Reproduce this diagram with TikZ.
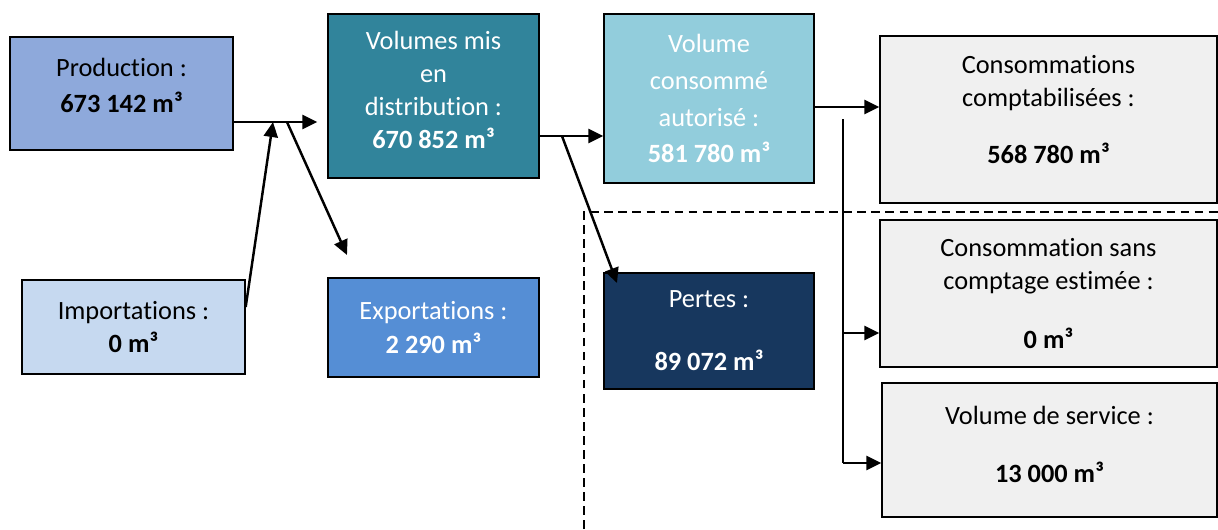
\documentclass[tikz,border=0pt]{standalone}
\usepackage{fontspec}
\setmainfont[Ligatures={NoCommon,NoRequired,NoContextual}]{Carlito}
\usetikzlibrary{arrows.meta}
\definecolor{prodblue}{HTML}{8EA9DB}
\definecolor{impblue}{HTML}{C6D9F0}
\definecolor{volteal}{HTML}{31849B}
\definecolor{expblue}{HTML}{558ED5}
\definecolor{autcyan}{HTML}{92CDDC}
\definecolor{pertnavy}{HTML}{17375E}
\definecolor{consgray}{HTML}{F0F0F0}

\begin{document}
\begin{tikzpicture}[x=0.02cm,y=-0.02cm,
	bloc/.style={draw=black,line width=0.8pt,inner sep=0pt,align=center,
		font=\fontsize{15}{18.8}\selectfont},
	flux/.style={line width=1.4pt,-{Triangle[length=0.3cm,width=0.28cm]}}]
	\useasboundingbox (0,0) rectangle (1218,529);
	
	% pertes zone
	\draw[dashed,line width=0.6pt,dash pattern=on 5pt off 3pt] (584,529) -- (584,212) -- (1218,212);
	
	% boxes
	\node[bloc,fill=prodblue,minimum width=4.46cm,minimum height=2.26cm] (prod) at (121.5,93.5) {Production :\\[2pt]\textbf{673 142 m³}\\[-9.7pt]\mbox{}};
	\node[bloc,fill=impblue,minimum width=4.46cm,minimum height=1.88cm] (imp) at (133.5,327) {Importations :\\\textbf{0 m³}};
	\node[bloc,fill=volteal,text=white,minimum width=4.22cm,minimum height=3.28cm] (vol) at (433.5,96) {Volumes mis\\en\\distribution :\\\textbf{670 852 m³}\\[-12pt]\mbox{}};
	\node[bloc,fill=expblue,text=white,minimum width=4.22cm,minimum height=1.98cm] (exp) at (433.5,327.5) {Exportations :\\\textbf{2 290 m³}};
	\node[bloc,fill=autcyan,text=white,minimum width=4.2cm,minimum height=3.38cm,
		font=\fontsize{15}{21}\selectfont] (aut) at (709,98.5) {Volume\\consommé\\autorisé :\\\textbf{581 780 m³}};
	\node[bloc,fill=pertnavy,text=white,minimum width=4.2cm,minimum height=2.32cm] (pert) at (709,331) {Pertes :\\[17pt]\textbf{89 072 m³}};
	\node[bloc,fill=consgray,minimum width=6.74cm,minimum height=3.34cm] (cpt) at (1048.5,119.5) {Consommations\\comptabilisées :\\[14pt]\textbf{568 780 m³}\\[-7.4pt]\mbox{}};
	\node[bloc,fill=consgray,minimum width=6.74cm,minimum height=2.94cm] (sans) at (1048.5,293.5) {Consommation sans\\comptage estimée :\\[15pt]\textbf{0 m³}};
	\node[bloc,fill=consgray,minimum width=6.7cm,minimum height=2.68cm] (serv) at (1049.5,450) {Volume de service :\\[14pt]\textbf{13 000 m³}\\[-12pt]\mbox{}};
	
	% junctions
	\coordinate (m1) at (273,122);
	\coordinate (m2) at (287,122);
	\coordinate (m3) at (562,136);
	\coordinate (e1) at (347,255);
	\coordinate (p1) at (617,283);
	\coordinate (m4) at (814,107);
	\coordinate (v0) at (843,119);
	\coordinate (b1) at (843,333);
	\coordinate (b2) at (843,463);
	
	% flows
	\draw[flux,shorten >=0.2cm] (prod.east |- m1) -- (vol.west |- m1);
	\draw[flux] ([yshift=0.4cm]imp.east) -- (m1);
	\draw[flux] (m2) -- (e1);
	\draw[flux] (vol.east |- m3) -- (aut.west |- m3);
	\draw[flux] (m3) -- (p1);
	\draw[flux] (m4) -- (cpt.west |- m4);
	\draw[line width=1.4pt] (v0) -- (b2);
	\draw[flux] (b1) -- (sans.west |- b1);
	\draw[flux] (b2) -- (serv.west |- b2);
\end{tikzpicture}
\end{document}
